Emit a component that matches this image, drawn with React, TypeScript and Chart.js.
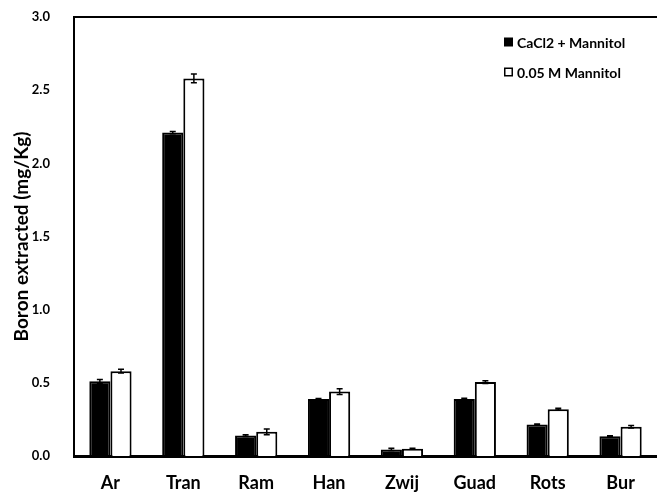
import React, { useEffect, useRef } from "react";
import { Chart, registerables } from "chart.js";

Chart.register(...registerables);

const categories = ["Ar", "Tran", "Ram", "Han", "Zwij", "Guad", "Rots", "Bur"];
const seriesLabels = ["CaCl2 + Mannitol", "0.05 M Mannitol"];
const cacl2Values = [0.51, 2.21, 0.14, 0.39, 0.045, 0.39, 0.215, 0.135];
const cacl2Errors = [0.012, 0.008, 0.006, 0.003, 0.008, 0.004, 0.003, 0.003];
const mannitolValues = [0.58, 2.58, 0.165, 0.44, 0.05, 0.505, 0.32, 0.2];
const mannitolErrors = [0.012, 0.03, 0.02, 0.02, 0.003, 0.01, 0.006, 0.008];
const yTitle = "Boron extracted (mg/Kg)";

const FONT = "Lato, 'Noto Sans', sans-serif";

const errorBarPlugin = {
  id: "errorBars",
  afterDatasetsDraw(chart: any) {
    const ctx = chart.ctx;
    const yScale = chart.scales.y;
    const errs = [cacl2Errors, mannitolErrors];
    chart.data.datasets.forEach((ds: any, di: number) => {
      const meta = chart.getDatasetMeta(di);
      meta.data.forEach((el: any, i: number) => {
        const v = ds.data[i];
        const e = errs[di][i];
        const x = el.x;
        const yTop = yScale.getPixelForValue(v + e);
        const yBot = yScale.getPixelForValue(v - e);
        ctx.save();
        ctx.strokeStyle = "#000";
        ctx.lineWidth = 1.5;
        ctx.beginPath();
        ctx.moveTo(x, yTop);
        ctx.lineTo(x, yBot);
        ctx.moveTo(x - 3, yTop);
        ctx.lineTo(x + 3, yTop);
        ctx.moveTo(x - 3, yBot);
        ctx.lineTo(x + 3, yBot);
        ctx.stroke();
        ctx.restore();
      });
    });
  },
};

const framePlugin = {
  id: "frameAndLegend",
  afterDraw(chart: any) {
    const ctx = chart.ctx;
    const a = chart.chartArea;
    ctx.save();
    ctx.strokeStyle = "#000";
    ctx.lineWidth = 2;
    ctx.beginPath();
    ctx.moveTo(a.left - 1, a.top);
    ctx.lineTo(chart.width, a.top);
    ctx.stroke();

    // legend
    ctx.font = `bold 14px ${FONT}`;
    ctx.textBaseline = "middle";
    ctx.textAlign = "left";
    const rows = [42, 72];
    chart.data.datasets.forEach((ds: any, i: number) => {
      const y = rows[i];
      const bx = 504;
      if (i === 0) {
        ctx.fillStyle = "#000";
        ctx.fillRect(bx, y - 4.5, 9, 9);
      } else {
        ctx.fillStyle = "#fff";
        ctx.fillRect(bx, y - 4.5, 9, 9);
        ctx.strokeStyle = "#000";
        ctx.lineWidth = 1.5;
        ctx.strokeRect(bx + 0.75, y - 3.75, 7.5, 7.5);
      }
      ctx.fillStyle = "#000";
      ctx.fillText(ds.label, 517, y + 1);
    });
    ctx.restore();
  },
};

export default function App() {
  const ref = useRef<HTMLCanvasElement | null>(null);

  useEffect(() => {
    document.body.style.margin = "0";
    if (!ref.current) return;
    const chart = new Chart(ref.current, {
      type: "bar",
      data: {
        labels: categories,
        datasets: [
          {
            label: seriesLabels[0],
            data: cacl2Values,
            backgroundColor: "#000",
            borderColor: "#000",
            borderWidth: 2,
            categoryPercentage: 0.58,
            barPercentage: 1,
          },
          {
            label: seriesLabels[1],
            data: mannitolValues,
            backgroundColor: "#fff",
            borderColor: "#000",
            borderWidth: 2,
            categoryPercentage: 0.58,
            barPercentage: 1,
          },
        ],
      },
      options: {
        responsive: false,
        animation: false,
        layout: { padding: { top: 17, right: 0, left: 0, bottom: 0 } },
        plugins: {
          legend: { display: false },
          tooltip: { enabled: false },
        },
        scales: {
          x: {
            grid: { display: false, drawTicks: false },
            border: { display: true, color: "#000", width: 3 },
            ticks: {
              color: "#000",
              padding: 16,
              font: { family: FONT, size: 18, weight: "bold" },
            },
            afterFit: (s: any) => {
              s.height = 37;
              s.paddingLeft = 0;
              s.paddingRight = 0;
            },
          },
          y: {
            min: 0,
            max: 3,
            grid: { display: false, drawTicks: false },
            border: { display: true, color: "#000", width: 2 },
            ticks: {
              stepSize: 0.5,
              color: "#000",
              padding: 24,
              font: { family: FONT, size: 13, weight: "bold" },
              callback: (v: any) => Number(v).toFixed(1),
            },
            title: {
              display: true,
              text: yTitle,
              color: "#000",
              font: { family: FONT, size: 19, weight: "bold" },
              padding: { top: 10, bottom: 0 },
            },
            afterFit: (s: any) => {
              s.width = 74;
              s.paddingTop = 0;
              s.paddingBottom = 0;
            },
          },
        },
      },
      plugins: [errorBarPlugin, framePlugin],
    });
    return () => chart.destroy();
  }, []);

  return (
    <div style={{ width: 657, height: 493 }}>
      <canvas ref={ref} width={657} height={493} />
    </div>
  );
}
